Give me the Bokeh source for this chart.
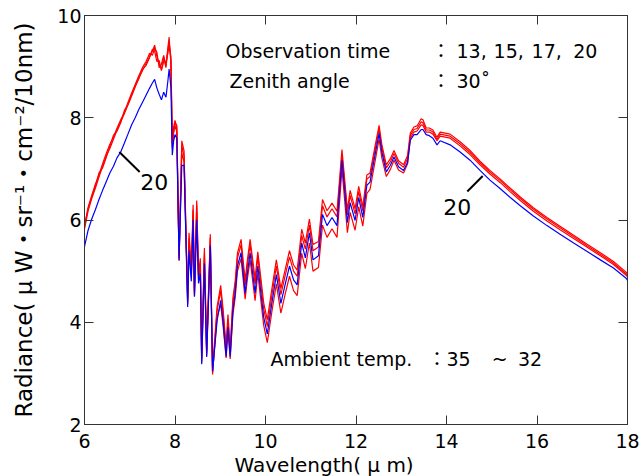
from bokeh.plotting import figure
from bokeh.models import Label, LinearAxis, FixedTicker, Title
from bokeh.embed import file_html
from bokeh.resources import INLINE

# Wavelength (um)
wl = [6.00, 6.08, 6.16, 6.24, 6.32, 6.40, 6.48, 6.56, 6.64, 6.72, 6.80, 6.88, 6.96, 7.04, 7.12,
      7.20, 7.28, 7.36, 7.44, 7.50, 7.55, 7.60, 7.65, 7.70, 7.75, 7.80, 7.84, 7.87, 7.91, 7.94,
      7.97, 8.00, 8.04, 8.09, 8.15, 8.20, 8.28, 8.31, 8.36, 8.40, 8.43, 8.48, 8.52, 8.56, 8.59,
      8.65, 8.70, 8.78, 8.83, 8.93, 9.01, 9.06, 9.13, 9.17, 9.22, 9.28, 9.33, 9.38, 9.46, 9.55,
      9.60, 9.66, 9.77, 9.83, 9.96, 10.04, 10.14, 10.24, 10.34, 10.44, 10.53, 10.62, 10.70, 10.80, 10.88,
      10.97, 11.05, 11.17, 11.26, 11.36, 11.47, 11.58, 11.69, 11.81, 11.87, 11.98, 12.06, 12.15, 12.24, 12.31,
      12.42, 12.51, 12.57, 12.67, 12.76, 12.84, 12.94, 13.05, 13.14, 13.20, 13.28, 13.35, 13.44, 13.48, 13.55,
      13.62, 13.70, 13.79, 13.86, 14.08, 14.30, 14.52, 14.74, 14.96, 15.19, 15.41, 15.63, 15.92, 16.22, 16.51,
      16.81, 17.10, 17.40, 17.69, 17.97, 18.00]

# Observation time 20 (blue)
rad_20 = [5.48, 5.80, 6.02, 6.20, 6.40, 6.58, 6.75, 6.92, 7.05, 7.22, 7.33, 7.50, 7.68, 7.86, 8.00,
          8.16, 8.30, 8.44, 8.58, 8.68, 8.75, 8.58, 8.46, 8.35, 8.50, 8.40, 8.70, 8.95, 8.60, 7.27,
          7.55, 7.67, 7.60, 5.22, 7.07, 7.07, 4.30, 5.40, 4.80, 6.00, 4.50, 6.00, 4.76, 4.95, 3.18,
          5.15, 3.32, 5.50, 3.04, 4.03, 4.43, 4.03, 3.33, 3.90, 3.33, 4.23, 4.57, 5.10, 5.36, 4.57,
          4.96, 5.36, 4.57, 5.10, 4.10, 3.77, 4.37, 4.93, 4.37, 4.76, 5.10, 4.83, 4.73, 5.55, 5.26,
          5.75, 5.22, 5.30, 6.11, 5.89, 6.05, 5.89, 7.17, 5.95, 6.34, 5.99, 6.44, 6.05, 6.68, 6.74,
          7.27, 7.69, 7.33, 6.94, 7.07, 7.23, 7.04, 6.97, 7.13, 7.56, 7.67, 7.67, 7.77, 7.77, 7.67,
          7.65, 7.60, 7.47, 7.55, 7.47, 7.33, 7.17, 6.97, 6.78, 6.61, 6.44, 6.28, 6.08, 5.89, 5.72,
          5.55, 5.39, 5.22, 5.06, 4.86, 4.82]

# Observation times 13, 15, 17 (red)
rad_13 = [5.82, 6.18, 6.42, 6.62, 6.84, 7.05, 7.25, 7.40, 7.58, 7.76, 7.92, 8.08, 8.25, 8.42, 8.60,
          8.78, 8.92, 9.06, 9.20, 9.30, 9.42, 9.20, 9.05, 8.95, 9.18, 8.98, 9.30, 9.50, 9.10, 7.45,
          7.75, 7.90, 7.85, 5.30, 7.55, 7.35, 4.45, 5.75, 5.00, 6.30, 4.60, 6.38, 4.95, 5.25, 3.35,
          5.45, 3.45, 5.72, 3.10, 4.30, 4.72, 4.28, 3.55, 4.15, 3.50, 4.48, 4.80, 5.35, 5.62, 4.82,
          5.22, 5.62, 4.85, 5.38, 4.38, 4.05, 4.65, 5.22, 4.66, 5.05, 5.40, 5.12, 5.02, 5.82, 5.55,
          6.02, 5.52, 5.58, 6.40, 6.18, 6.33, 6.17, 7.38, 6.20, 6.58, 6.22, 6.66, 6.26, 6.88, 6.92,
          7.44, 7.85, 7.48, 7.08, 7.20, 7.36, 7.16, 7.08, 7.26, 7.70, 7.82, 7.84, 7.98, 7.96, 7.80,
          7.80, 7.76, 7.62, 7.72, 7.68, 7.53, 7.36, 7.15, 6.97, 6.80, 6.62, 6.45, 6.24, 6.05, 5.88,
          5.70, 5.53, 5.36, 5.19, 4.98, 4.95]

rad_15 = [5.86, 6.25, 6.48, 6.70, 6.88, 7.10, 7.30, 7.48, 7.62, 7.80, 7.96, 8.10, 8.30, 8.48, 8.65,
          8.82, 8.98, 9.10, 9.26, 9.22, 9.36, 9.28, 8.98, 9.05, 9.22, 9.02, 9.35, 9.58, 9.05, 7.40,
          7.82, 7.95, 7.80, 5.25, 7.45, 7.25, 4.40, 5.65, 4.95, 6.20, 4.55, 6.28, 4.90, 5.15, 3.28,
          5.35, 3.40, 5.65, 2.98, 4.22, 4.62, 4.20, 3.45, 4.05, 3.42, 4.38, 4.72, 5.25, 5.52, 4.72,
          5.12, 5.52, 4.75, 5.28, 4.26, 3.92, 4.52, 5.10, 4.54, 4.93, 5.28, 5.00, 4.90, 5.70, 5.43,
          5.90, 5.40, 5.47, 6.28, 6.06, 6.22, 6.06, 7.28, 6.10, 6.48, 6.12, 6.56, 6.18, 6.80, 6.85,
          7.37, 7.78, 7.42, 7.02, 7.14, 7.30, 7.11, 7.03, 7.20, 7.65, 7.77, 7.79, 7.92, 7.90, 7.76,
          7.76, 7.72, 7.58, 7.68, 7.64, 7.49, 7.32, 7.12, 6.94, 6.77, 6.59, 6.42, 6.21, 6.02, 5.85,
          5.67, 5.50, 5.33, 5.16, 4.95, 4.92]

rad_17 = [5.90, 6.22, 6.45, 6.66, 6.92, 7.02, 7.22, 7.44, 7.66, 7.74, 7.90, 8.14, 8.26, 8.45, 8.62,
          8.76, 8.95, 9.02, 9.18, 9.34, 9.30, 9.10, 9.12, 8.92, 9.10, 9.08, 9.25, 9.42, 9.20, 7.50,
          7.70, 7.85, 7.72, 5.20, 7.30, 7.15, 4.35, 5.55, 4.88, 6.10, 4.52, 6.15, 4.85, 5.05, 3.22,
          5.25, 3.35, 5.58, 3.02, 4.10, 4.35, 3.95, 3.30, 3.85, 3.28, 4.15, 4.48, 5.00, 5.25, 4.45,
          4.85, 5.22, 4.42, 4.95, 3.94, 3.60, 4.20, 4.75, 4.18, 4.57, 4.90, 4.62, 4.52, 5.35, 5.05,
          5.55, 5.00, 5.07, 5.90, 5.66, 5.83, 5.66, 7.00, 5.75, 6.15, 5.80, 6.26, 5.88, 6.52, 6.60,
          7.14, 7.58, 7.22, 6.85, 6.99, 7.17, 6.98, 6.92, 7.10, 7.60, 7.72, 7.74, 7.86, 7.85, 7.72,
          7.72, 7.68, 7.55, 7.64, 7.60, 7.45, 7.28, 7.08, 6.90, 6.73, 6.55, 6.38, 6.17, 5.98, 5.81,
          5.64, 5.47, 5.30, 5.13, 4.92, 4.89]

x_ticks = [6, 8, 10, 12, 14, 16, 18]
y_ticks = [2, 4, 6, 8, 10]

FONT = "DejaVu Sans, Noto Sans CJK JP"
AX = "#333333"

p = figure(width=642, height=476, x_range=(6, 18), y_range=(2, 10),
           output_backend="svg", toolbar_location=None,
           min_border_left=84, min_border_right=15, min_border_top=15, min_border_bottom=0)
p.xgrid.visible = False
p.ygrid.visible = False
p.outline_line_color = AX
p.outline_line_width = 1
p.background_fill_color = "white"
p.border_fill_color = "white"

for ax in (p.xaxis[0], p.yaxis[0]):
    ax.major_tick_in = 9
    ax.major_tick_out = 0
    ax.minor_tick_line_color = None
    ax.axis_line_color = AX
    ax.major_tick_line_color = AX
    ax.major_label_text_font = FONT
    ax.major_label_text_font_size = "19px"
    ax.major_label_text_color = "black"
    ax.axis_label_text_font = FONT
    ax.axis_label_text_font_style = "normal"
    ax.axis_label_text_color = "black"

p.xaxis[0].ticker = FixedTicker(ticks=x_ticks)
p.yaxis[0].ticker = FixedTicker(ticks=y_ticks)
p.xaxis[0].major_label_standoff = 9
p.yaxis[0].axis_label = "Radiance( μ W・sr⁻¹・cm⁻²/10nm)"
p.yaxis[0].axis_label_text_font_size = "23px"
p.yaxis[0].major_label_standoff = 3
p.yaxis[0].axis_label_standoff = 17

top = LinearAxis(ticker=FixedTicker(ticks=x_ticks), major_tick_in=9, major_tick_out=0,
                 minor_tick_line_color=None, major_label_text_color=None,
                 major_label_text_font_size="10px",
                 axis_line_color=AX, major_tick_line_color=AX)
right = LinearAxis(ticker=FixedTicker(ticks=y_ticks), major_tick_in=9, major_tick_out=0,
                   minor_tick_line_color=None, major_label_text_color=None,
                   major_label_text_font_size="10px",
                   axis_line_color=AX, major_tick_line_color=AX)
p.add_layout(top, "above")
p.add_layout(right, "right")

# x-axis title, slightly left of centre as in the source figure
xtitle = Title(text="Wavelength( μ m)", align="left", offset=150, standoff=0,
               text_font=FONT, text_font_size="20px", text_font_style="normal",
               text_color="black")
p.add_layout(xtitle, "below")

for series in (rad_13, rad_15, rad_17):
    p.line(wl, series, line_color="#ff0000", line_width=1.2)
p.line(wl, rad_20, line_color="#0000ff", line_width=1.2)

# annotation leader lines
lead_x0 = [6.77, 14.80]
lead_y0 = [7.33, 6.86]
lead_x1 = [7.22, 14.46]
lead_y1 = [6.94, 6.556]
p.segment(lead_x0, lead_y0, lead_x1, lead_y1, line_color="black", line_width=2)

def add_text(x, y, t, size="19px"):
    p.add_layout(Label(x=x, y=y, text=t, text_font=FONT, text_font_size=size,
                       text_color="black", text_baseline="alphabetic", text_align="left"))

add_text(7.234, 6.75, "20", "22px")
add_text(13.93, 6.255, "20", "22px")
add_text(9.116, 9.31, "Observation time")
add_text(13.67, 9.31, "：")
add_text(14.22, 9.31, "13,")
add_text(15.04, 9.31, "15,")
add_text(15.88, 9.31, "17,")
add_text(16.80, 9.31, "20")
add_text(9.204, 8.724, "Zenith angle")
add_text(13.67, 8.724, "：")
add_text(14.22, 8.724, "30˚")
add_text(10.11, 3.28, "Ambient temp.")
add_text(13.58, 3.28, "：35")
add_text(15.0, 3.28, "~")
add_text(15.58, 3.28, "32")

open("out.html", "w").write(file_html(p, INLINE))
